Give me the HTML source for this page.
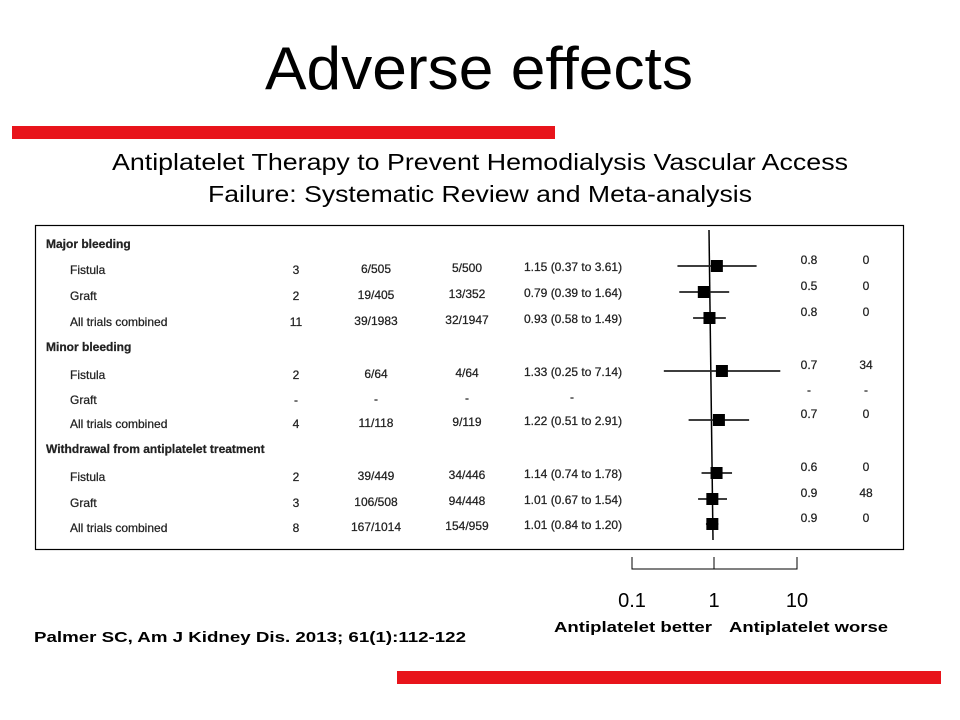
<!DOCTYPE html>
<html><head><meta charset="utf-8"><style>
body{margin:0;width:960px;height:720px;background:#fff;overflow:hidden;font-family:"Liberation Sans",sans-serif}
</style></head><body>
<svg width="960" height="720" style="position:absolute;left:0;top:0">
<text x="265" y="89" textLength="428" lengthAdjust="spacingAndGlyphs" font-size="60">Adverse effects</text>
<rect x="12" y="126" width="543" height="13" fill="#e8141b"/>
<text x="112" y="170" textLength="736" lengthAdjust="spacingAndGlyphs" font-size="23">Antiplatelet Therapy to Prevent Hemodialysis Vascular Access</text>
<text x="208" y="202" textLength="544" lengthAdjust="spacingAndGlyphs" font-size="23">Failure: Systematic Review and Meta-analysis</text>
<rect x="35.5" y="225.5" width="868" height="324" fill="none" stroke="#000" stroke-width="1.2"/>
<g id="table" font-size="12" fill="#222" stroke="#222" stroke-width="0.25"></g>
<g id="plot"></g>
<g id="axis"></g>
<text x="632" y="607" text-anchor="middle" font-size="20">0.1</text>
<text x="714" y="607" text-anchor="middle" font-size="20">1</text>
<text x="797" y="607" text-anchor="middle" font-size="20">10</text>
<text x="554" y="632" textLength="158" lengthAdjust="spacingAndGlyphs" font-size="15" font-weight="bold">Antiplatelet better</text>
<text x="729" y="632" textLength="159" lengthAdjust="spacingAndGlyphs" font-size="15" font-weight="bold">Antiplatelet worse</text>
<text x="34" y="642" textLength="432" lengthAdjust="spacingAndGlyphs" font-size="15" font-weight="bold">Palmer SC, Am J Kidney Dis. 2013; 61(1):112-122</text>
<rect x="397" y="671" width="544" height="13" fill="#e8141b"/>
</svg>
<script>
const labels=["Fistula","Graft","All trials combined","Fistula","Graft","All trials combined","Fistula","Graft","All trials combined"];
const trials=["3","2","11","2","-","4","2","3","8"];
const treat=["6/505","19/405","39/1983","6/64","-","11/118","39/449","106/508","167/1014"];
const ctrl=["5/500","13/352","32/1947","4/64","-","9/119","34/446","94/448","154/959"];
const rr=[1.15,0.79,0.93,1.33,null,1.22,1.14,1.01,1.01];
const lo=[0.37,0.39,0.58,0.25,null,0.51,0.74,0.67,0.84];
const hi=[3.61,1.64,1.49,7.14,null,2.91,1.78,1.54,1.20];
const weights=["0.8","0.5","0.8","0.7","-","0.7","0.6","0.9","0.9"];
const i2=["0","0","0","34","-","0","0","48","0"];
const headers=["Major bleeding","Minor bleeding","Withdrawal from antiplatelet treatment"];
const NS="http://www.w3.org/2000/svg";
const rowY=[270,296,322,375,400,424,477,503,528];
const headY=[248,351,453];
function x(v){return 712+80*Math.log10(v);}
function t(g,tx,xx,yy,anchor,bold){const e=document.createElementNS(NS,'text');e.setAttribute('x',xx);e.setAttribute('y',yy);e.setAttribute('text-anchor',anchor);if(bold)e.setAttribute('font-weight','bold');e.textContent=tx;g.appendChild(e);return e;}
const tb=document.getElementById('table');
headers.forEach((h,i)=>{const e=t(tb,h,46,headY[i],'start',true);

});
const pl=document.getElementById('plot');
const vl=document.createElementNS(NS,'line');
vl.setAttribute('x1',709);vl.setAttribute('x2',713);vl.setAttribute('y1',230);vl.setAttribute('y2',540);vl.setAttribute('stroke','#000');vl.setAttribute('stroke-width','1.5');


pl.appendChild(vl);
labels.forEach((l,i)=>{const y=rowY[i];
let e=t(tb,l,70,y+4,'start');
e=t(tb,trials[i],296,y+4,'middle');
e=t(tb,treat[i],376,y+3,'middle');
e=t(tb,ctrl[i],467,y+2,'middle');
const ci=rr[i]==null?"-":rr[i].toFixed(2)+" (" +lo[i].toFixed(2)+" to "+hi[i].toFixed(2)+")";
e=t(tb,ci,rr[i]==null?572:524,y+1,rr[i]==null?'middle':'start');
e=t(tb,weights[i],809,y-6,'middle');
e=t(tb,i2[i],866,y-6,'middle');
if(rr[i]!=null){const my=y-4;
const ln=document.createElementNS(NS,'line');ln.setAttribute('x1',x(lo[i]));ln.setAttribute('x2',x(hi[i]));ln.setAttribute('y1',my);ln.setAttribute('y2',my);ln.setAttribute('stroke','#222');ln.setAttribute('stroke-width','1.8');


pl.appendChild(ln);
const r=document.createElementNS(NS,'rect');r.setAttribute('x',x(rr[i])-6);r.setAttribute('y',my-6);r.setAttribute('width',12);r.setAttribute('height',12);r.setAttribute('fill','#000');


pl.appendChild(r);}
});
const ax=document.getElementById('axis');
const ticks=[0.1,1,10];
const p=document.createElementNS(NS,'path');
p.setAttribute('d',`M632 557 V569 H797 V557 M714 557 V569`);
p.setAttribute('stroke','#000');p.setAttribute('fill','none');


ax.appendChild(p);
</script>
</body></html>
